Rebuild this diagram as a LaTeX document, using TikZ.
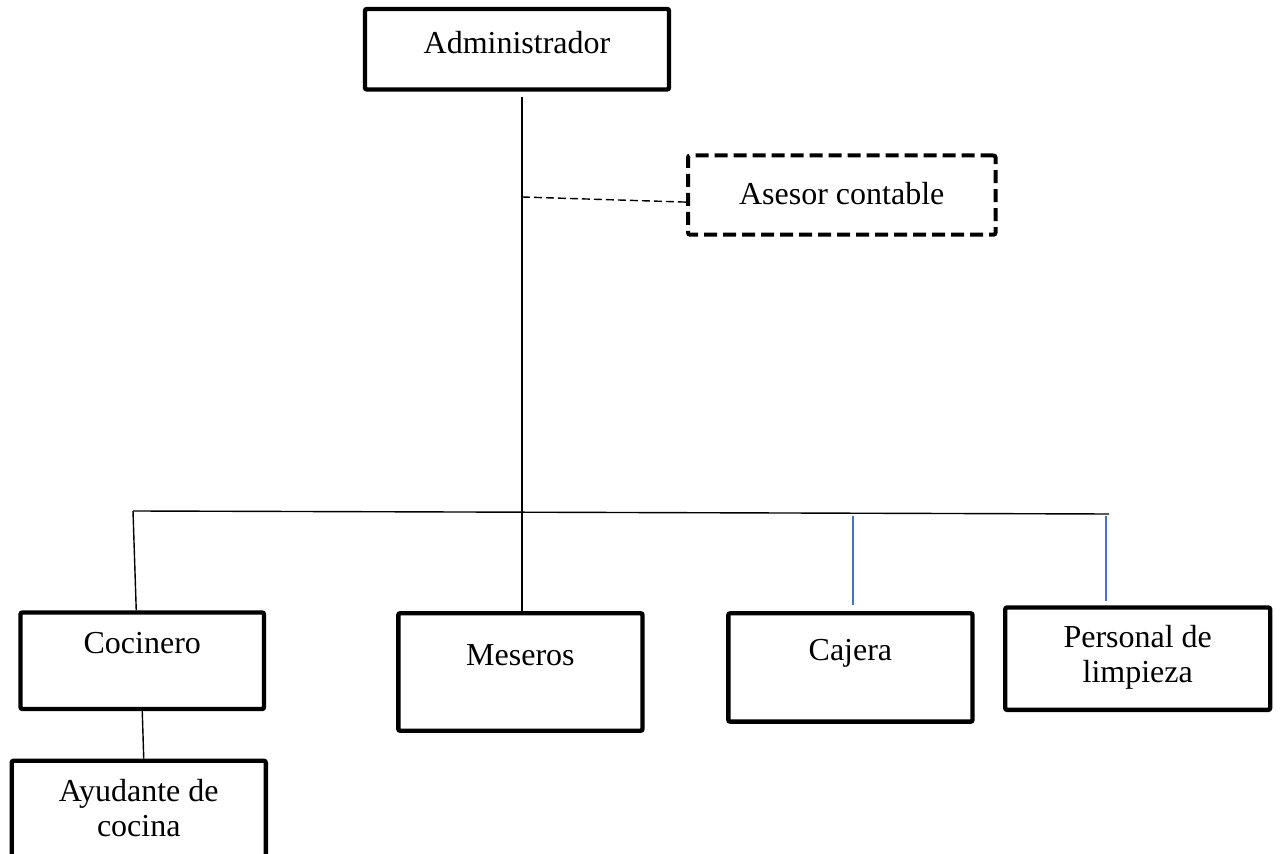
\documentclass[tikz,border=0pt]{standalone}
\usepackage{fontspec}
\setmainfont{Liberation Serif}
\definecolor{linkblue}{HTML}{4472C4}
\newcommand\twolines[2]{\begin{tabular}[t]{@{}c@{}}#1\\#2\end{tabular}}
\tikzset{
  orgbox/.style={draw, line width=2.2pt, rounded corners=1pt, inner sep=0pt,
    font=\fontsize{16}{17.5}\selectfont},
  advbox/.style={orgbox, line width=2pt, dash pattern=on 6.5pt off 3pt},
  conn/.style={line width=0.7pt},
  dconn/.style={conn, dash pattern=on 4pt off 2pt},
  bconn/.style={line width=0.7pt, draw=linkblue},
}
\begin{document}
\begin{tikzpicture}[x=0.5pt,y=-0.5pt]
\useasboundingbox (0,0) rectangle (1280,854);

\node[orgbox, minimum width=152pt, minimum height=40.25pt, text height=9pt, text depth=5pt]
  (adm) at (517,49.25) {Administrador};
\node[advbox, minimum width=153.75pt, minimum height=39.6pt, text height=11.5pt, text depth=2.5pt]
  (ase) at (841.75,195.1) {Asesor contable};
\node[orgbox, minimum width=121.75pt, minimum height=48.25pt, text height=3pt, text depth=9.75pt]
  (coc) at (142.25,660.75) {Cocinero};
\node[orgbox, minimum width=122.1pt, minimum height=58.75pt, text height=3pt, text depth=9pt]
  (mes) at (520.4,672) {Meseros};
\node[orgbox, minimum width=122.1pt, minimum height=54.2pt, text height=3pt, text depth=10pt]
  (caj) at (850.4,667.5) {Cajera};
\node[orgbox, minimum width=132.5pt, minimum height=51.15pt, text height=2pt, text depth=12.7pt]
  (per) at (1137.7,658.7) {\twolines{Personal de}{limpieza}};
\node[orgbox, minimum width=127.05pt, minimum height=60pt, text height=2pt, text depth=20.8pt]
  (ayu) at (138.75,820.8) {\twolines{Ayudante de}{cocina}};

\coordinate (a1) at (522,97);
\coordinate (d1) at (522,197);
\coordinate (hl) at (133,511);
\coordinate (hr) at (1109,514);
\coordinate (b1) at (853,516);
\coordinate (b2) at (1106,516);

\draw[conn] (a1) -- (a1 |- mes.north);
\draw[dconn] (d1) -- ([yshift=-3.5pt]ase.west);
\draw[conn] (hl) -- (hr);
\draw[conn] (hl) -- ([xshift=-3pt]coc.north);
\draw[conn] (coc.south) -- ([xshift=2.5pt]ayu.north);
\draw[bconn, shorten >=3pt] (b1) -- (b1 |- caj.north);
\draw[bconn, shorten >=2pt] (b2) -- (b2 |- per.north);
\end{tikzpicture}
\end{document}
